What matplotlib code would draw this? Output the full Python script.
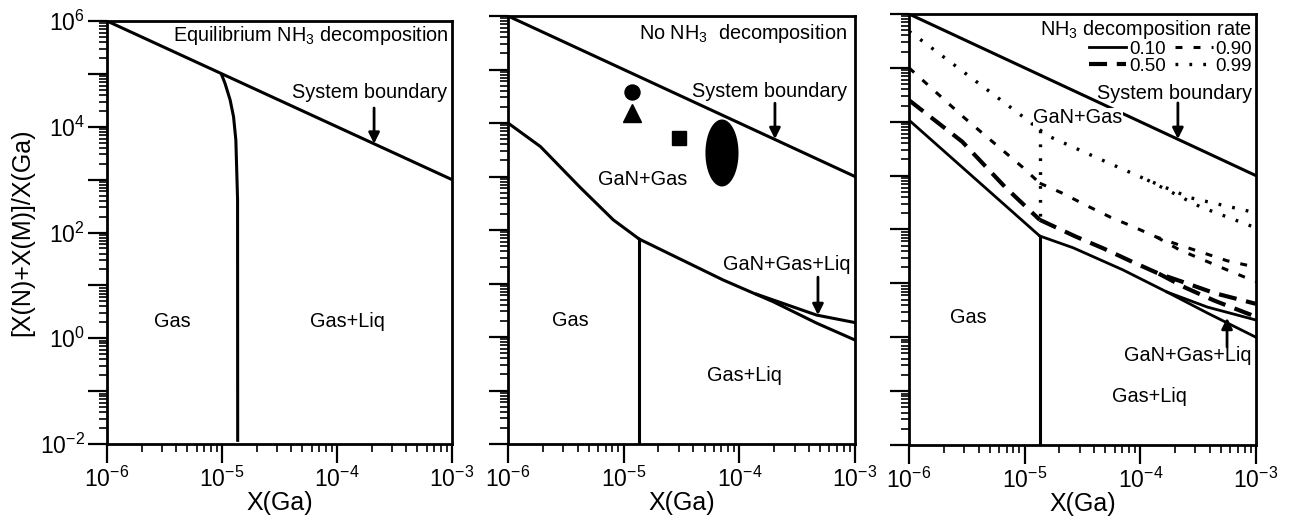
import numpy as np
import matplotlib
matplotlib.use('Agg')
import matplotlib.pyplot as plt
from matplotlib.ticker import LogLocator, FixedLocator, FuncFormatter, NullFormatter

plt.rcParams['font.family'] = ['Liberation Sans', 'DejaVu Sans']
plt.rcParams['mathtext.fontset'] = 'custom'
plt.rcParams['mathtext.rm'] = 'Liberation Sans'
plt.rcParams['mathtext.it'] = 'Liberation Sans:italic'
plt.rcParams['mathtext.default'] = 'regular'
plt.rcParams['lines.scale_dashes'] = False

# values are log10 exponents
boundary_x = [-6.0, -3.0]
boundary_y = [6.0, 3.0]

# panel 1: equilibrium NH3 decomposition
p1_curve_x = [-5.003, -4.974, -4.93, -4.90, -4.88, -4.865, -4.864]
p1_curve_y = [4.98, 4.82, 4.51, 4.19, 3.75, 2.62, -1.93]

# panel 2: no NH3 decomposition
p2_gas_x = [-6.0, -5.72, -5.378, -5.09, -4.865]
p2_gas_y = [4.0, 3.56, 2.80, 2.19, 1.83]
p2_low_x = [-4.865, -4.139, -3.707, -3.332, -3.0]
p2_low_y = [1.83, 1.065, 0.66, 0.26, -0.056]
p2_up_x = [-3.85, -3.332, -3.0]
p2_up_y = [0.80, 0.41, 0.27]
p2_vert_x = -4.865
marker_x = [-4.928, -4.928, -4.522]
marker_y = [4.58, 4.19, 3.72]
marker_shape = ['o', '^', 's']
marker_size = [10.8, 13, 10]
ellipse_center = (-4.150, 3.44)
ellipse_axes = (0.143, 0.626)

# panel 3: decomposition rates
rates = ['0.10', '0.50', '0.90', '0.99']
rate_left_x = {
    '0.10': [-6.0, -4.87],
    '0.50': [-6.0, -5.54, -5.17, -4.87],
    '0.90': [-6.0, -5.52, -5.02, -4.87],
    '0.99': [-6.0, -5.86, -5.0, -4.87],
}
rate_left_y = {
    '0.10': [4.03, 1.88],
    '0.50': [4.40, 3.63, 2.79, 2.18],
    '0.90': [5.0, 4.07, 3.16, 2.86],
    '0.99': [5.68, 5.46, 4.07, 3.85],
}
rate_up_x = {
    '0.10': [-4.87, -4.58, -4.15, -3.77, -3.42, -3.0],
    '0.50': [-4.87, -4.56, -4.31, -4.09, -3.84, -3.61, -3.36, -3.0],
    '0.90': [-4.87, -4.68, -4.46, -4.26, -4.06, -3.86, -3.66, -3.46, -3.25, -3.0],
    '0.99': [-4.87, -4.78, -4.29, -3.94, -3.57, -3.0],
}
rate_up_y = {
    '0.10': [1.88, 1.66, 1.25, 0.84, 0.56, 0.32],
    '0.50': [2.18, 1.87, 1.64, 1.42, 1.18, 1.01, 0.82, 0.62],
    '0.90': [2.86, 2.68, 2.44, 2.23, 2.05, 1.86, 1.71, 1.57, 1.42, 1.30],
    '0.99': [3.85, 3.72, 3.25, 2.92, 2.59, 2.31],
}
rate_low_x = {
    '0.10': [-3.77, -3.42, -3.0],
    '0.50': [-3.84, -3.61, -3.36, -3.0],
    '0.90': [-3.86, -3.66, -3.46, -3.25, -3.0],
    '0.99': [-3.94, -3.48, -3.0],
}
rate_low_y = {
    '0.10': [0.84, 0.45, 0.0],
    '0.50': [1.18, 0.92, 0.68, 0.38],
    '0.90': [1.86, 1.62, 1.44, 1.25, 1.03],
    '0.99': [2.92, 2.42, 2.03],
}
p3_vert_x = -4.865
p3_vert_top = 1.86
p3_dotted_vert = [3.85, 2.18]

rate_style = {
    '0.10': dict(lw=2.0, ls='-'),
    '0.50': dict(lw=3.0, dashes=(13, 7)),
    '0.90': dict(lw=2.2, dashes=(5, 8)),
    '0.99': dict(lw=2.4, dashes=(2, 8)),
}


def p(v):
    return 10 ** np.asarray(v, dtype=float)


def setup(ax, ylabels):
    ax.set_xscale('log')
    ax.set_yscale('log')
    ax.set_xlim(1e-6, 1e-3)
    ax.set_ylim(1e-2, 1e6)
    ax.xaxis.set_major_locator(FixedLocator(p([-6, -5, -4, -3])))
    ax.xaxis.set_minor_locator(LogLocator(base=10, subs=np.arange(2, 10), numticks=100))
    ax.yaxis.set_major_locator(FixedLocator(p(np.arange(-2, 7))))
    ax.yaxis.set_minor_locator(LogLocator(base=10, subs=np.arange(2, 10), numticks=100))
    ax.xaxis.set_major_formatter(FuncFormatter(lambda v, pos: r'$10^{%d}$' % round(np.log10(v))))
    ax.xaxis.set_minor_formatter(NullFormatter())
    ax.yaxis.set_minor_formatter(NullFormatter())
    if ylabels:
        ax.yaxis.set_major_formatter(FuncFormatter(
            lambda v, pos: r'$10^{%d}$' % round(np.log10(v)) if round(np.log10(v)) % 2 == 0 else ''))
    else:
        ax.yaxis.set_major_formatter(NullFormatter())
    ax.tick_params(which='major', direction='out', length=14, width=1.6, labelsize=16.5, pad=2)
    ax.tick_params(which='minor', direction='out', length=6, width=1.2)
    for s in ax.spines.values():
        s.set_linewidth(2.0)
    ax.set_xlabel('X(Ga)', fontsize=18, labelpad=0)


def arrow(ax, x, y0, y1):
    ax.annotate('', xy=(10 ** x, 10 ** y1), xytext=(10 ** x, 10 ** y0),
                arrowprops=dict(arrowstyle='-|>', lw=2.0, color='black',
                                mutation_scale=16, shrinkA=0, shrinkB=0))


fs = 14.3
fig = plt.figure(figsize=(12.96, 5.22), dpi=100)
ax1 = fig.add_axes([0.0826, 0.1494, 0.2662, 0.8103])
ax2 = fig.add_axes([0.3920, 0.1494, 0.2677, 0.8199])
ax3 = fig.add_axes([0.7014, 0.1475, 0.2677, 0.8257])

# panel 1
setup(ax1, True)
ax1.set_ylabel('[X(N)+X(M)]/X(Ga)', fontsize=18, labelpad=4)
ax1.plot(p(boundary_x), p(boundary_y), color='black', lw=2.2)
ax1.plot(p(p1_curve_x), p(p1_curve_y), color='black', lw=2.2)
ax1.text(10 ** -3.03, 10 ** 5.73, 'Equilibrium NH$_3$ decomposition', ha='right', va='center', fontsize=fs)
ax1.text(10 ** -3.04, 10 ** 4.64, 'System boundary', ha='right', va='center', fontsize=fs)
arrow(ax1, -3.678, 4.355, 3.68)
ax1.text(10 ** -5.435, 10 ** 0.31, 'Gas', ha='center', va='center', fontsize=fs)
ax1.text(10 ** -3.913, 10 ** 0.31, 'Gas+Liq', ha='center', va='center', fontsize=fs)

# panel 2
setup(ax2, False)
ax2.plot(p(boundary_x), p(boundary_y), color='black', lw=2.2)
ax2.plot(p(p2_gas_x), p(p2_gas_y), color='black', lw=2.2)
ax2.plot(p(p2_low_x), p(p2_low_y), color='black', lw=2.2)
ax2.plot(p(p2_up_x), p(p2_up_y), color='black', lw=2.2)
ax2.plot(p([p2_vert_x, p2_vert_x]), p([p2_gas_y[-1], -2]), color='black', lw=2.2)
for mx, my, ms, sz in zip(marker_x, marker_y, marker_shape, marker_size):
    ax2.plot(10 ** mx, 10 ** my, marker=ms, ms=sz, color='black', ls='none')
t = np.linspace(0, 2 * np.pi, 200)
ax2.fill(p(ellipse_center[0] + ellipse_axes[0] * np.cos(t)),
         p(ellipse_center[1] + ellipse_axes[1] * np.sin(t)), color='black', lw=0)
ax2.text(10 ** -3.07, 10 ** 5.68, 'No NH$_3$  decomposition', ha='right', va='center', fontsize=fs)
ax2.text(10 ** -3.07, 10 ** 4.58, 'System boundary', ha='right', va='center', fontsize=fs)
arrow(ax2, -3.692, 4.37, 3.70)
ax2.text(10 ** -4.833, 10 ** 2.935, 'GaN+Gas', ha='center', va='center', fontsize=fs)
ax2.text(10 ** -3.04, 10 ** 1.35, 'GaN+Gas+Liq', ha='right', va='center', fontsize=fs)
arrow(ax2, -3.32, 1.12, 0.41)
ax2.text(10 ** -5.464, 10 ** 0.318, 'Gas', ha='center', va='center', fontsize=fs)
ax2.text(10 ** -3.96, 10 ** -0.71, 'Gas+Liq', ha='center', va='center', fontsize=fs)

# panel 3
setup(ax3, False)
ax3.plot(p(boundary_x), p(boundary_y), color='black', lw=2.2)
handles = []
for r in rates:
    st = rate_style[r]
    h, = ax3.plot(p(rate_left_x[r]), p(rate_left_y[r]), color='black', label=r,
                  dash_capstyle='butt', **st)
    ax3.plot(p(rate_up_x[r]), p(rate_up_y[r]), color='black', dash_capstyle='butt', **st)
    ax3.plot(p(rate_low_x[r]), p(rate_low_y[r]), color='black', dash_capstyle='butt', **st)
    handles.append(h)
ax3.plot(p([p3_vert_x, p3_vert_x]), p([p3_vert_top, -2]), color='black', lw=2.2)
ax3.plot(p([p3_vert_x, p3_vert_x]), p(p3_dotted_vert), color='black',
         dash_capstyle='butt', **rate_style['0.99'])
ax3.legend(handles=handles, ncol=2, loc='upper right', frameon=False,
           title='NH$_3$ decomposition rate', title_fontsize=fs, fontsize=13.5,
           alignment='right', borderaxespad=0.1, borderpad=0.1,
           handlelength=2.0, handletextpad=0.15, columnspacing=0.5, labelspacing=0.0)
ax3.text(10 ** -3.035, 10 ** 4.53, 'System boundary', ha='right', va='center', fontsize=fs)
arrow(ax3, -3.675, 4.35, 3.68)
ax3.text(10 ** -4.54, 10 ** 4.07, 'GaN+Gas', ha='center', va='center', fontsize=fs,
         bbox=dict(facecolor='white', edgecolor='none', pad=0.5))
ax3.text(10 ** -5.49, 10 ** 0.36, 'Gas', ha='center', va='center', fontsize=fs)
ax3.text(10 ** -3.035, 10 ** -0.33, 'GaN+Gas+Liq', ha='right', va='center', fontsize=fs)
arrow(ax3, -3.25, -0.18, 0.36)
ax3.text(10 ** -3.917, 10 ** -1.105, 'Gas+Liq', ha='center', va='center', fontsize=fs)

fig.savefig('out.png', dpi=100)
